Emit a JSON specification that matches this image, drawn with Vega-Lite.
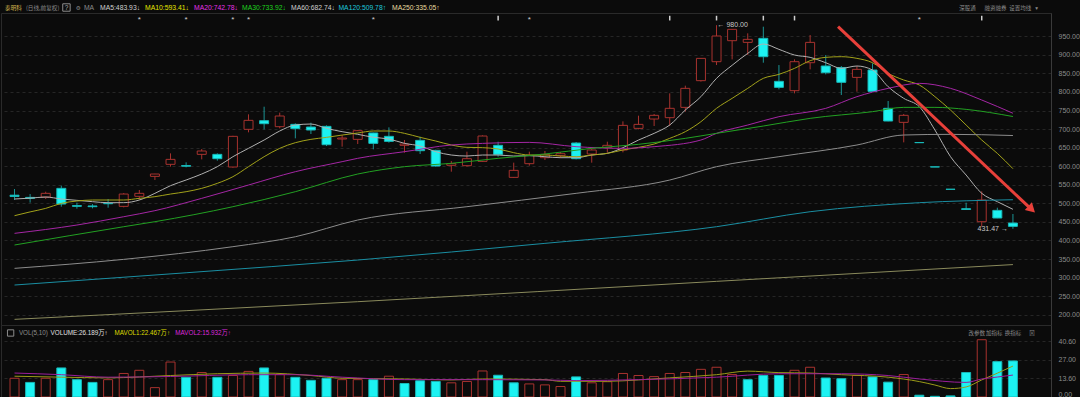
{
  "$schema": "https://vega.github.io/schema/vega-lite/v6.json",
  "background": "#0b0b0b",
  "padding": 0,
  "spacing": 0,
  "bounds": "flush",
  "resolve": {"scale": {"color": "independent"}},
  "config": {
    "view": {"stroke": "#2a2a2a"},
    "axis": {"labelFont": "Liberation Sans", "labelFontSize": 7, "labelColor": "#8c8c8c", "domainColor": "#3a3a3a", "ticks": false, "labelPadding": 7, "labelOverlap": false, "gridColor": "#262626", "gridDash": [3, 3], "title": null}
  },
  "datasets": {
    "k": [
      {"i":0,"o":522,"h":538.6,"l":509,"c":518.5,"vol":13.6,"vup":1},
      {"i":1,"o":516,"h":525,"l":502,"c":513.5,"vol":10.6,"vup":0},
      {"i":2,"o":517,"h":531.4,"l":511.7,"c":527,"vol":13.6,"vup":1},
      {"i":3,"o":540.4,"h":547.6,"l":491,"c":498.2,"vol":21.1,"vup":0},
      {"i":4,"o":494,"h":501.8,"l":485.6,"c":492,"vol":12.6,"vup":0},
      {"i":5,"o":493,"h":498,"l":486.5,"c":491,"vol":10.6,"vup":0},
      {"i":6,"o":500,"h":511.7,"l":488.3,"c":499,"vol":12.6,"vup":1},
      {"i":7,"o":491.9,"h":527.8,"l":489.2,"c":525.1,"vol":17.1,"vup":1},
      {"i":8,"o":518.9,"h":536,"l":509.8,"c":527,"vol":19.4,"vup":1},
      {"i":9,"o":572.7,"h":579.5,"l":562.9,"c":579,"vol":6.8,"vup":1},
      {"i":10,"o":605.1,"h":634.7,"l":598.8,"c":618.5,"vol":25.4,"vup":1},
      {"i":11,"o":602,"h":610.5,"l":597,"c":600,"vol":14.3,"vup":0},
      {"i":12,"o":632,"h":646.4,"l":618.5,"c":641,"vol":17.8,"vup":1},
      {"i":13,"o":632,"h":634.7,"l":615,"c":620.3,"vol":14.3,"vup":0},
      {"i":14,"o":597.9,"h":682,"l":596,"c":680.5,"vol":15.6,"vup":1},
      {"i":15,"o":699.4,"h":739.8,"l":691.3,"c":723.6,"vol":18.6,"vup":1},
      {"i":16,"o":722.7,"h":760.4,"l":699.4,"c":714.6,"vol":21.1,"vup":0},
      {"i":17,"o":706.5,"h":744.3,"l":702,"c":735.3,"vol":16.3,"vup":1},
      {"i":18,"o":712.8,"h":715.5,"l":675.1,"c":701.2,"vol":14.3,"vup":0},
      {"i":19,"o":705.6,"h":717.3,"l":686.8,"c":697.6,"vol":12.1,"vup":0},
      {"i":20,"o":707.4,"h":710.1,"l":654.5,"c":658,"vol":13.6,"vup":0},
      {"i":21,"o":673.3,"h":684,"l":652.7,"c":676,"vol":12.6,"vup":1},
      {"i":22,"o":672.4,"h":697.6,"l":659.8,"c":695.8,"vol":12.6,"vup":1},
      {"i":23,"o":689.5,"h":690.4,"l":645.5,"c":661.6,"vol":12.6,"vup":0},
      {"i":24,"o":680.5,"h":704.7,"l":663.4,"c":667,"vol":15.1,"vup":1},
      {"i":25,"o":656.3,"h":670.6,"l":636.5,"c":659.8,"vol":9.8,"vup":0},
      {"i":26,"o":669.7,"h":679.6,"l":632.9,"c":641.9,"vol":11.8,"vup":0},
      {"i":27,"o":642.8,"h":644.6,"l":598.8,"c":600.6,"vol":11.3,"vup":0},
      {"i":28,"o":602.4,"h":614,"l":585.3,"c":606.9,"vol":10.3,"vup":1},
      {"i":29,"o":601.5,"h":639.2,"l":598.8,"c":620.3,"vol":11.3,"vup":1},
      {"i":30,"o":613.1,"h":683.2,"l":612,"c":681.4,"vol":18.9,"vup":1},
      {"i":31,"o":656.3,"h":666.1,"l":625.7,"c":632,"vol":15.8,"vup":0},
      {"i":32,"o":570,"h":609.6,"l":569,"c":588.9,"vol":10.3,"vup":0},
      {"i":33,"o":606.9,"h":639.2,"l":601.5,"c":629.3,"vol":9.5,"vup":1},
      {"i":34,"o":623,"h":641,"l":616.7,"c":632,"vol":8.8,"vup":1},
      {"i":35,"o":628.4,"h":638.3,"l":622.1,"c":633.8,"vol":7.6,"vup":1},
      {"i":36,"o":662.5,"h":665.2,"l":618.5,"c":620.3,"vol":14.6,"vup":0},
      {"i":37,"o":632.9,"h":648.2,"l":609.6,"c":643.7,"vol":10.3,"vup":1},
      {"i":38,"o":650,"h":666.1,"l":636.5,"c":656.3,"vol":11.1,"vup":1},
      {"i":39,"o":643.7,"h":720.9,"l":637.4,"c":710.1,"vol":17.1,"vup":1},
      {"i":40,"o":702,"h":736.2,"l":699.4,"c":712.8,"vol":15.6,"vup":1},
      {"i":41,"o":727.2,"h":740.7,"l":708.3,"c":737.1,"vol":14.8,"vup":1},
      {"i":42,"o":730.8,"h":796.3,"l":708.3,"c":756,"vol":17.1,"vup":1},
      {"i":43,"o":758.6,"h":817,"l":747,"c":809.8,"vol":17.8,"vup":1},
      {"i":44,"o":830.5,"h":891,"l":828,"c":890.6,"vol":20.1,"vup":1},
      {"i":45,"o":881.6,"h":980,"l":872.6,"c":950.8,"vol":21.6,"vup":1},
      {"i":46,"o":938.2,"h":969,"l":887.9,"c":968.8,"vol":16.3,"vup":1},
      {"i":47,"o":933.7,"h":958,"l":899.6,"c":941.8,"vol":12.6,"vup":0},
      {"i":48,"o":944.5,"h":975.9,"l":878.9,"c":895.1,"vol":15.6,"vup":0},
      {"i":49,"o":828.7,"h":872.6,"l":807.1,"c":812.5,"vol":15.6,"vup":0},
      {"i":50,"o":803.5,"h":887.9,"l":796.3,"c":881.6,"vol":19.4,"vup":1},
      {"i":51,"o":878.9,"h":953.5,"l":861,"c":933.7,"vol":21.6,"vup":1},
      {"i":52,"o":870,"h":899.6,"l":847.5,"c":852,"vol":13.8,"vup":0},
      {"i":53,"o":865.5,"h":870,"l":791.9,"c":826,"vol":13.3,"vup":0},
      {"i":54,"o":839.4,"h":870,"l":800.8,"c":861,"vol":15.6,"vup":1},
      {"i":55,"o":859.2,"h":877.2,"l":800.8,"c":801.7,"vol":14.6,"vup":0},
      {"i":56,"o":756,"h":775.7,"l":721,"c":721.8,"vol":10.8,"vup":0},
      {"i":57,"o":718.2,"h":740.7,"l":664.3,"c":737.1,"vol":16.3,"vup":1},
      {"i":58,"o":663.9,"h":663.9,"l":663.4,"c":663.4,"vol":1.3,"vup":0},
      {"i":59,"o":598.4,"h":598.4,"l":597.9,"c":597.9,"vol":0.5,"vup":0},
      {"i":60,"o":538.2,"h":538.2,"l":537.7,"c":537.7,"vol":0.8,"vup":0},
      {"i":61,"o":485.6,"h":501.8,"l":483,"c":483.5,"vol":17.8,"vup":0},
      {"i":62,"o":450.6,"h":532.3,"l":437.1,"c":509,"vol":41.6,"vup":1},
      {"i":63,"o":481.1,"h":488.3,"l":460,"c":460.5,"vol":25.7,"vup":0},
      {"i":64,"o":447,"h":471.3,"l":431.47,"c":438,"vol":26.19,"vup":0}
    ],
    "ma": [
      {"n":"MA5","i":0,"v":511.7},{"n":"MA5","i":1,"v":514},{"n":"MA5","i":2,"v":517},{"n":"MA5","i":3,"v":511.7},{"n":"MA5","i":4,"v":508.1},{"n":"MA5","i":5,"v":504.5},{"n":"MA5","i":6,"v":501.8},{"n":"MA5","i":7,"v":501.8},{"n":"MA5","i":8,"v":509},{"n":"MA5","i":9,"v":527},{"n":"MA5","i":10,"v":547.6},{"n":"MA5","i":11,"v":562.9},{"n":"MA5","i":12,"v":579},{"n":"MA5","i":13,"v":598.8},{"n":"MA5","i":14,"v":625.7},{"n":"MA5","i":15,"v":648.2},{"n":"MA5","i":16,"v":670.6},{"n":"MA5","i":17,"v":694.9},{"n":"MA5","i":18,"v":711},{"n":"MA5","i":19,"v":713.7},{"n":"MA5","i":20,"v":702},{"n":"MA5","i":21,"v":693.1},{"n":"MA5","i":22,"v":686},{"n":"MA5","i":23,"v":678},{"n":"MA5","i":24,"v":673.3},{"n":"MA5","i":25,"v":661.6},{"n":"MA5","i":26,"v":654.5},{"n":"MA5","i":27,"v":639.2},{"n":"MA5","i":28,"v":630.2},{"n":"MA5","i":29,"v":627.5},{"n":"MA5","i":30,"v":630.2},{"n":"MA5","i":31,"v":630.2},{"n":"MA5","i":32,"v":627.5},{"n":"MA5","i":33,"v":628.4},{"n":"MA5","i":34,"v":625.7},{"n":"MA5","i":35,"v":623},{"n":"MA5","i":36,"v":623},{"n":"MA5","i":37,"v":630.2},{"n":"MA5","i":38,"v":634.7},{"n":"MA5","i":39,"v":650},{"n":"MA5","i":40,"v":670.6},{"n":"MA5","i":41,"v":688.6},{"n":"MA5","i":42,"v":711},{"n":"MA5","i":43,"v":751.4},{"n":"MA5","i":44,"v":787.4},{"n":"MA5","i":45,"v":836.8},{"n":"MA5","i":46,"v":872},{"n":"MA5","i":47,"v":904},{"n":"MA5","i":48,"v":929.3},{"n":"MA5","i":49,"v":914.9},{"n":"MA5","i":50,"v":899.6},{"n":"MA5","i":51,"v":893.3},{"n":"MA5","i":52,"v":878.9},{"n":"MA5","i":53,"v":863.7},{"n":"MA5","i":54,"v":870},{"n":"MA5","i":55,"v":859.2},{"n":"MA5","i":56,"v":814.3},{"n":"MA5","i":57,"v":782.9},{"n":"MA5","i":58,"v":760.4},{"n":"MA5","i":59,"v":697.6},{"n":"MA5","i":60,"v":625.7},{"n":"MA5","i":61,"v":576.3},{"n":"MA5","i":62,"v":527},{"n":"MA5","i":63,"v":504.5},{"n":"MA5","i":64,"v":483.93},
      {"n":"MA10","i":0,"v":466.8},{"n":"MA10","i":1,"v":477},{"n":"MA10","i":2,"v":486.5},{"n":"MA10","i":3,"v":500},{"n":"MA10","i":4,"v":506.3},{"n":"MA10","i":5,"v":509},{"n":"MA10","i":6,"v":509},{"n":"MA10","i":7,"v":509},{"n":"MA10","i":8,"v":513.5},{"n":"MA10","i":9,"v":518},{"n":"MA10","i":10,"v":525.1},{"n":"MA10","i":11,"v":531.4},{"n":"MA10","i":12,"v":540.4},{"n":"MA10","i":13,"v":553.9},{"n":"MA10","i":14,"v":571.8},{"n":"MA10","i":15,"v":598.8},{"n":"MA10","i":16,"v":625.7},{"n":"MA10","i":17,"v":648.2},{"n":"MA10","i":18,"v":663.4},{"n":"MA10","i":19,"v":672.4},{"n":"MA10","i":20,"v":677.8},{"n":"MA10","i":21,"v":684},{"n":"MA10","i":22,"v":689.5},{"n":"MA10","i":23,"v":694.9},{"n":"MA10","i":24,"v":694.9},{"n":"MA10","i":25,"v":688.6},{"n":"MA10","i":26,"v":677.8},{"n":"MA10","i":27,"v":667.9},{"n":"MA10","i":28,"v":657.2},{"n":"MA10","i":29,"v":650.9},{"n":"MA10","i":30,"v":650},{"n":"MA10","i":31,"v":646.4},{"n":"MA10","i":32,"v":636.5},{"n":"MA10","i":33,"v":630.2},{"n":"MA10","i":34,"v":630.2},{"n":"MA10","i":35,"v":627.5},{"n":"MA10","i":36,"v":625.7},{"n":"MA10","i":37,"v":630.2},{"n":"MA10","i":38,"v":634.7},{"n":"MA10","i":39,"v":643.7},{"n":"MA10","i":40,"v":650.9},{"n":"MA10","i":41,"v":659.8},{"n":"MA10","i":42,"v":675.1},{"n":"MA10","i":43,"v":693.1},{"n":"MA10","i":44,"v":720},{"n":"MA10","i":45,"v":756},{"n":"MA10","i":46,"v":782.9},{"n":"MA10","i":47,"v":809.8},{"n":"MA10","i":48,"v":836.8},{"n":"MA10","i":49,"v":847.5},{"n":"MA10","i":50,"v":863.7},{"n":"MA10","i":51,"v":884.3},{"n":"MA10","i":52,"v":893.3},{"n":"MA10","i":53,"v":895.1},{"n":"MA10","i":54,"v":890.6},{"n":"MA10","i":55,"v":878.9},{"n":"MA10","i":56,"v":850.2},{"n":"MA10","i":57,"v":832.3},{"n":"MA10","i":58,"v":818.8},{"n":"MA10","i":59,"v":787.4},{"n":"MA10","i":60,"v":751.4},{"n":"MA10","i":61,"v":711},{"n":"MA10","i":62,"v":670.6},{"n":"MA10","i":63,"v":634.7},{"n":"MA10","i":64,"v":593.41},
      {"n":"MA20","i":0,"v":419.2},{"n":"MA20","i":4,"v":441.6},{"n":"MA20","i":7,"v":464},{"n":"MA20","i":9,"v":480.3},{"n":"MA20","i":12,"v":513.5},{"n":"MA20","i":15,"v":549.4},{"n":"MA20","i":18,"v":585.3},{"n":"MA20","i":21,"v":612.3},{"n":"MA20","i":22,"v":621.3},{"n":"MA20","i":25,"v":639.2},{"n":"MA20","i":28,"v":657.2},{"n":"MA20","i":30,"v":661.6},{"n":"MA20","i":33,"v":664.3},{"n":"MA20","i":36,"v":652.7},{"n":"MA20","i":39,"v":648.2},{"n":"MA20","i":41,"v":652.7},{"n":"MA20","i":44,"v":670.6},{"n":"MA20","i":45,"v":688.6},{"n":"MA20","i":47,"v":711},{"n":"MA20","i":49,"v":733.5},{"n":"MA20","i":52,"v":755.9},{"n":"MA20","i":54,"v":787.4},{"n":"MA20","i":56,"v":809.8},{"n":"MA20","i":58,"v":823.3},{"n":"MA20","i":60,"v":809.8},{"n":"MA20","i":62,"v":778.4},{"n":"MA20","i":64,"v":742.78},
      {"n":"MA30","i":0,"v":387.8},{"n":"MA30","i":7,"v":437.1},{"n":"MA30","i":9,"v":450.6},{"n":"MA30","i":14,"v":491},{"n":"MA30","i":18,"v":531.4},{"n":"MA30","i":22,"v":579},{"n":"MA30","i":25,"v":598.8},{"n":"MA30","i":28,"v":607.8},{"n":"MA30","i":31,"v":621.3},{"n":"MA30","i":34,"v":632.9},{"n":"MA30","i":37,"v":648.2},{"n":"MA30","i":40,"v":659},{"n":"MA30","i":43,"v":675.1},{"n":"MA30","i":45,"v":688.6},{"n":"MA30","i":48,"v":708.3},{"n":"MA30","i":51,"v":729},{"n":"MA30","i":55,"v":747},{"n":"MA30","i":57,"v":758.6},{"n":"MA30","i":59,"v":758.6},{"n":"MA30","i":61,"v":753.2},{"n":"MA30","i":64,"v":733.92},
      {"n":"MA60","i":0,"v":324.9},{"n":"MA60","i":7,"v":349.1},{"n":"MA60","i":14,"v":383.3},{"n":"MA60","i":18,"v":410},{"n":"MA60","i":22,"v":455.1},{"n":"MA60","i":29,"v":491},{"n":"MA60","i":36,"v":527},{"n":"MA60","i":42,"v":562.8},{"n":"MA60","i":45,"v":598.8},{"n":"MA60","i":49,"v":625.7},{"n":"MA60","i":54,"v":657.2},{"n":"MA60","i":57,"v":684.1},{"n":"MA60","i":60,"v":685.9},{"n":"MA60","i":64,"v":682.74},
      {"n":"MA120","i":0,"v":280},{"n":"MA120","i":11,"v":313},{"n":"MA120","i":22,"v":347.3},{"n":"MA120","i":34,"v":392.2},{"n":"MA120","i":45,"v":437.1},{"n":"MA120","i":51,"v":477.5},{"n":"MA120","i":58,"v":501.8},{"n":"MA120","i":64,"v":509.78},
      {"n":"MA250","i":0,"v":187.5},{"n":"MA250","i":22,"v":235.1},{"n":"MA250","i":45,"v":289.9},{"n":"MA250","i":64,"v":335.05}
    ],
    "mv": [
      {"n":"MAVOL1","i":0,"v":15.1},{"n":"MAVOL1","i":3,"v":14.4},{"n":"MAVOL1","i":6,"v":13.9},{"n":"MAVOL1","i":10,"v":15.6},{"n":"MAVOL1","i":13,"v":16.9},{"n":"MAVOL1","i":16,"v":17.4},{"n":"MAVOL1","i":19,"v":15.6},{"n":"MAVOL1","i":21,"v":13.6},{"n":"MAVOL1","i":25,"v":13.1},{"n":"MAVOL1","i":28,"v":12.4},{"n":"MAVOL1","i":30,"v":13.1},{"n":"MAVOL1","i":34,"v":12.6},{"n":"MAVOL1","i":35,"v":11.4},{"n":"MAVOL1","i":38,"v":11.4},{"n":"MAVOL1","i":40,"v":12.4},{"n":"MAVOL1","i":42,"v":13.9},{"n":"MAVOL1","i":45,"v":16.2},{"n":"MAVOL1","i":47,"v":18.8},{"n":"MAVOL1","i":49,"v":17.7},{"n":"MAVOL1","i":51,"v":17.4},{"n":"MAVOL1","i":53,"v":16.2},{"n":"MAVOL1","i":56,"v":14.4},{"n":"MAVOL1","i":58,"v":11.2},{"n":"MAVOL1","i":59,"v":8.7},{"n":"MAVOL1","i":60,"v":6.1},{"n":"MAVOL1","i":61,"v":7.3},{"n":"MAVOL1","i":62,"v":12.4},{"n":"MAVOL1","i":63,"v":17.3},{"n":"MAVOL1","i":64,"v":22.47},
      {"n":"MAVOL2","i":0,"v":17.4},{"n":"MAVOL2","i":3,"v":16.2},{"n":"MAVOL2","i":6,"v":14.4},{"n":"MAVOL2","i":10,"v":14.9},{"n":"MAVOL2","i":15,"v":16.2},{"n":"MAVOL2","i":18,"v":16.2},{"n":"MAVOL2","i":21,"v":14.4},{"n":"MAVOL2","i":25,"v":12.6},{"n":"MAVOL2","i":30,"v":12.6},{"n":"MAVOL2","i":34,"v":12.4},{"n":"MAVOL2","i":36,"v":11.9},{"n":"MAVOL2","i":40,"v":12.6},{"n":"MAVOL2","i":45,"v":14.4},{"n":"MAVOL2","i":49,"v":16.9},{"n":"MAVOL2","i":53,"v":16.9},{"n":"MAVOL2","i":56,"v":15.6},{"n":"MAVOL2","i":58,"v":13.1},{"n":"MAVOL2","i":61,"v":10.6},{"n":"MAVOL2","i":62,"v":13.1},{"n":"MAVOL2","i":63,"v":14.5},{"n":"MAVOL2","i":64,"v":15.93}
    ],
    "hdr": [
      {"t":"MA","i":4.72,"g":"grey"},
      {"t":"MA5:483.93↓","i":5.74,"g":"MA5"},
      {"t":"MA10:593.41↓","i":8.6,"g":"MA10"},
      {"t":"MA20:742.78↓","i":11.71,"g":"MA20"},
      {"t":"MA30:733.92↓","i":14.76,"g":"MA30"},
      {"t":"MA60:682.74↓","i":17.87,"g":"MA60"},
      {"t":"MA120:509.78↑","i":20.88,"g":"MA120"},
      {"t":"MA250:335.05↑","i":24.28,"g":"MA250"}
    ],
    "hdrc": [
      {"t":"泰明科","i":-0.29,"g":"name"},
      {"t":"(日线,前复权)","i":1.04,"g":"grey"},
      {"t":"⚙","i":4.2,"g":"grey"}
    ],
    "btn": [
      {"t":"深股通","i":60.3},
      {"t":"融资融券","i":61.89},
      {"t":"设置均线","i":63.47},
      {"t":"▾","i":65.12}
    ],
    "vhdr": [
      {"t":"VOL(5,10)","i":0.28,"g":"grey"},
      {"t":"VOLUME:26.189万↑","i":2.31,"g":"VOL"},
      {"t":"MAVOL1:22.467万↑","i":6.41,"g":"MAVOL1"},
      {"t":"MAVOL2:15.932万↑","i":10.31,"g":"MAVOL2"}
    ],
    "vbtn": [
      {"t":"改参数","i":61.15},
      {"t":"加指标","i":62.27},
      {"t":"换指标","i":63.47},
      {"t":"⊠","i":65.04}
    ],
    "star": [
      {"i":8},{"i":11},{"i":14},{"i":15},{"i":23},{"i":33},{"i":58}
    ],
    "bar": [
      {"i":31},{"i":42},{"i":45},{"i":48},{"i":50},{"i":62}
    ]
  },
  "vconcat": [
    {
      "width": 1050,
      "height": 13,
      "view": {"stroke": null},
      "layer": [
        {
          "data": {"name": "hdr"},
          "mark": {"type": "text", "align": "left", "baseline": "middle", "fontSize": 6.8, "font": "Liberation Sans, Noto Sans CJK SC, DejaVu Sans", "dy": 1.5},
          "encoding": {
            "x": {"field": "i", "type": "quantitative", "scale": {"domain": [-0.546, 66.12], "nice": false, "zero": false}, "axis": null},
            "text": {"field": "t"},
            "color": {"field": "g", "type": "nominal", "legend": null,
              "scale": {"domain": ["name","grey","MA5","MA10","MA20","MA30","MA60","MA120","MA250"],
                        "range": ["#d6b44c","#8c8c8c","#d0d0d0","#e6e600","#e632e6","#1ed21e","#d0d0d0","#1ec8dc","#e8dca0"]}}
          }
        },
        {
          "data": {"name": "hdrc"},
          "mark": {"type": "text", "align": "left", "baseline": "middle", "fontSize": 5.6, "font": "Noto Sans CJK SC, DejaVu Sans", "dy": 1.5},
          "encoding": {
            "x": {"field": "i", "type": "quantitative", "axis": null},
            "text": {"field": "t"},
            "color": {"field": "g", "type": "nominal", "legend": null}
          }
        },
        {
          "data": {"name": "btn"},
          "mark": {"type": "text", "align": "left", "baseline": "middle", "fontSize": 5.5, "font": "Noto Sans CJK SC, DejaVu Sans", "color": "#8c8c8c", "dy": 1.5},
          "encoding": {
            "x": {"field": "i", "type": "quantitative", "axis": null},
            "text": {"field": "t"}
          }
        },
        {
          "data": {"values": [{"i": 3.61, "t": "?"}]},
          "mark": {"type": "point", "shape": "square", "filled": false, "size": 55, "stroke": "#8c8c8c", "strokeWidth": 1, "opacity": 1, "yOffset": 1},
          "encoding": {
            "x": {"field": "i", "type": "quantitative", "axis": null}
          }
        },
        {
          "data": {"values": [{"i": 3.61, "t": "?"}]},
          "mark": {"type": "text", "align": "center", "baseline": "middle", "fontSize": 6.5, "font": "Liberation Sans", "color": "#b0b0b0", "dy": 1.5},
          "encoding": {
            "x": {"field": "i", "type": "quantitative", "axis": null},
            "text": {"field": "t"}
          }
        }
      ]
    },
    {
      "width": 1050,
      "height": 312,
      "layer": [
        {
          "data": {"name": "k"},
          "mark": {"type": "rule", "strokeWidth": 1},
          "encoding": {
            "x": {"field": "i", "type": "quantitative", "scale": {"domain": [-0.546, 66.12], "nice": false, "zero": false}, "axis": null},
            "y": {"field": "l", "type": "quantitative", "scale": {"domain": [172.3, 1012.8], "nice": false, "zero": false},
                  "axis": {"orient": "right", "values": [200,250,300,350,400,450,500,550,600,650,700,750,800,850,900,950], "format": ".2f", "grid": true, "labelOverlap": false}},
            "y2": {"field": "h"},
            "color": {"condition": {"test": "datum.c >= datum.o", "value": "#a8332f"}, "value": "#1b9494"}
          }
        },
        {
          "data": {"name": "k"},
          "mark": {"type": "bar", "size": 9, "strokeWidth": 1},
          "encoding": {
            "x": {"field": "i", "type": "quantitative", "axis": null},
            "y": {"field": "o", "type": "quantitative", "axis": {"orient": "right", "values": [200,250,300,350,400,450,500,550,600,650,700,750,800,850,900,950], "format": ".2f", "grid": true, "labelOverlap": false}},
            "y2": {"field": "c"},
            "fill": {"condition": {"test": "datum.c >= datum.o", "value": "#0b0b0b"}, "value": "#1cf2f2"},
            "stroke": {"condition": {"test": "datum.c >= datum.o", "value": "#a8332f"}, "value": "#18b8b8"}
          }
        },
        {
          "data": {"name": "ma"},
          "mark": {"type": "line", "strokeWidth": 1, "interpolate": "monotone"},
          "encoding": {
            "x": {"field": "i", "type": "quantitative", "axis": null},
            "y": {"field": "v", "type": "quantitative", "axis": {"orient": "right", "values": [200,250,300,350,400,450,500,550,600,650,700,750,800,850,900,950], "format": ".2f", "grid": true, "labelOverlap": false}},
            "detail": {"field": "n"},
            "color": {"field": "n", "type": "nominal", "legend": null,
              "scale": {"domain": ["MA5","MA10","MA20","MA30","MA60","MA120","MA250"],
                        "range": ["#b0b0b0","#a2a21a","#a426a4","#22a022","#8c8c8c","#1a8ea2","#8a8a5c"]}}
          }
        },
        {
          "data": {"name": "star"},
          "mark": {"type": "text", "align": "center", "baseline": "middle", "fontSize": 8, "font": "Liberation Sans", "color": "#d0d0d0", "dy": 2, "text": "*"},
          "encoding": {
            "x": {"field": "i", "type": "quantitative", "axis": null},
            "y": {"datum": 999, "type": "quantitative", "axis": {"orient": "right", "values": [200,250,300,350,400,450,500,550,600,650,700,750,800,850,900,950], "format": ".2f", "grid": true, "labelOverlap": false}}
          }
        },
        {
          "data": {"name": "bar"},
          "mark": {"type": "point", "shape": "M0,-1L0,1", "filled": false, "size": 22, "stroke": "#d0d0d0", "strokeWidth": 1.5, "opacity": 1},
          "encoding": {
            "x": {"field": "i", "type": "quantitative", "axis": null},
            "y": {"datum": 999, "type": "quantitative", "axis": {"orient": "right", "values": [200,250,300,350,400,450,500,550,600,650,700,750,800,850,900,950], "format": ".2f", "grid": true, "labelOverlap": false}}
          }
        },
        {
          "data": {"values": [{"i": 45, "p": 980, "t": "← 980.00"}]},
          "mark": {"type": "text", "align": "left", "baseline": "middle", "fontSize": 7, "font": "Liberation Sans", "color": "#c8c8c8", "dx": 1},
          "encoding": {
            "x": {"field": "i", "type": "quantitative", "axis": null},
            "y": {"field": "p", "type": "quantitative", "axis": {"orient": "right", "values": [200,250,300,350,400,450,500,550,600,650,700,750,800,850,900,950], "format": ".2f", "grid": true, "labelOverlap": false}},
            "text": {"field": "t"}
          }
        },
        {
          "data": {"values": [{"i": 64, "p": 431.47, "t": "431.47 →"}]},
          "mark": {"type": "text", "align": "right", "baseline": "middle", "fontSize": 7, "font": "Liberation Sans", "color": "#c8c8c8", "dx": -5},
          "encoding": {
            "x": {"field": "i", "type": "quantitative", "axis": null},
            "y": {"field": "p", "type": "quantitative", "axis": {"orient": "right", "values": [200,250,300,350,400,450,500,550,600,650,700,750,800,850,900,950], "format": ".2f", "grid": true, "labelOverlap": false}},
            "text": {"field": "t"}
          }
        },
        {
          "data": {"values": [{"i": 52.79, "p": 975.9, "i2": 65.0, "p2": 491}]},
          "mark": {"type": "rule", "strokeWidth": 3, "color": "#e8403a"},
          "encoding": {
            "x": {"field": "i", "type": "quantitative", "axis": null},
            "y": {"field": "p", "type": "quantitative", "axis": {"orient": "right", "values": [200,250,300,350,400,450,500,550,600,650,700,750,800,850,900,950], "format": ".2f", "grid": true, "labelOverlap": false}},
            "x2": {"field": "i2"},
            "y2": {"field": "p2"}
          }
        },
        {
          "data": {"values": [{"i": 65.2, "p": 484}]},
          "mark": {"type": "point", "shape": "triangle-up", "filled": true, "size": 110, "angle": 133, "color": "#e8403a", "opacity": 1},
          "encoding": {
            "x": {"field": "i", "type": "quantitative", "axis": null},
            "y": {"field": "p", "type": "quantitative", "axis": {"orient": "right", "values": [200,250,300,350,400,450,500,550,600,650,700,750,800,850,900,950], "format": ".2f", "grid": true, "labelOverlap": false}}
          }
        }
      ]
    },
    {
      "width": 1050,
      "height": 72,
      "layer": [
        {
          "data": {"name": "k"},
          "mark": {"type": "bar", "size": 9, "strokeWidth": 1},
          "encoding": {
            "x": {"field": "i", "type": "quantitative", "scale": {"domain": [-0.546, 66.12], "nice": false, "zero": false}, "axis": null},
            "y": {"field": "vol", "type": "quantitative", "scale": {"domain": [0, 52.3], "nice": false, "zero": false},
                  "axis": {"orient": "right", "values": [0, 13.6, 27, 40.6], "format": ".2f", "grid": true, "labelFlush": true, "labelOverlap": false}},
            "y2": {"datum": 0},
            "fill": {"condition": {"test": "datum.vup == 1", "value": "#0b0b0b"}, "value": "#1cf2f2"},
            "stroke": {"condition": {"test": "datum.vup == 1", "value": "#a8332f"}, "value": "#18b8b8"}
          }
        },
        {
          "data": {"name": "mv"},
          "mark": {"type": "line", "strokeWidth": 1, "interpolate": "monotone"},
          "encoding": {
            "x": {"field": "i", "type": "quantitative", "axis": null},
            "y": {"field": "v", "type": "quantitative", "axis": {"orient": "right", "values": [0, 13.6, 27, 40.6], "format": ".2f", "grid": true, "labelFlush": true, "labelOverlap": false}},
            "detail": {"field": "n"},
            "color": {"field": "n", "type": "nominal", "legend": null,
              "scale": {"domain": ["MAVOL1","MAVOL2"], "range": ["#9a9a18","#9a1e9a"]}}
          }
        },
        {
          "data": {"name": "vhdr"},
          "mark": {"type": "text", "align": "left", "baseline": "middle", "fontSize": 6.3, "font": "Liberation Sans, Noto Sans CJK SC, DejaVu Sans"},
          "encoding": {
            "x": {"field": "i", "type": "quantitative", "axis": null},
            "y": {"datum": 46.5, "type": "quantitative", "axis": {"orient": "right", "values": [0, 13.6, 27, 40.6], "format": ".2f", "grid": true, "labelFlush": true, "labelOverlap": false}},
            "text": {"field": "t"},
            "fill": {"field": "g", "type": "nominal", "legend": null,
              "scale": {"domain": ["grey","VOL","MAVOL1","MAVOL2"], "range": ["#8c8c8c","#e0e0e0","#dcdc00","#dc28dc"]}}
          }
        },
        {
          "data": {"name": "vbtn"},
          "mark": {"type": "text", "align": "left", "baseline": "middle", "fontSize": 5.5, "font": "Noto Sans CJK SC, DejaVu Sans", "color": "#8c8c8c"},
          "encoding": {
            "x": {"field": "i", "type": "quantitative", "axis": null},
            "y": {"datum": 46.5, "type": "quantitative", "axis": {"orient": "right", "values": [0, 13.6, 27, 40.6], "format": ".2f", "grid": true, "labelFlush": true, "labelOverlap": false}},
            "text": {"field": "t"}
          }
        },
        {
          "data": {"values": [{"i": -0.25}]},
          "mark": {"type": "point", "shape": "square", "filled": false, "size": 40, "stroke": "#8c8c8c", "strokeWidth": 1, "opacity": 1},
          "encoding": {
            "x": {"field": "i", "type": "quantitative", "axis": null},
            "y": {"datum": 46.5, "type": "quantitative", "axis": {"orient": "right", "values": [0, 13.6, 27, 40.6], "format": ".2f", "grid": true, "labelFlush": true, "labelOverlap": false}}
          }
        }
      ]
    }
  ]
}
